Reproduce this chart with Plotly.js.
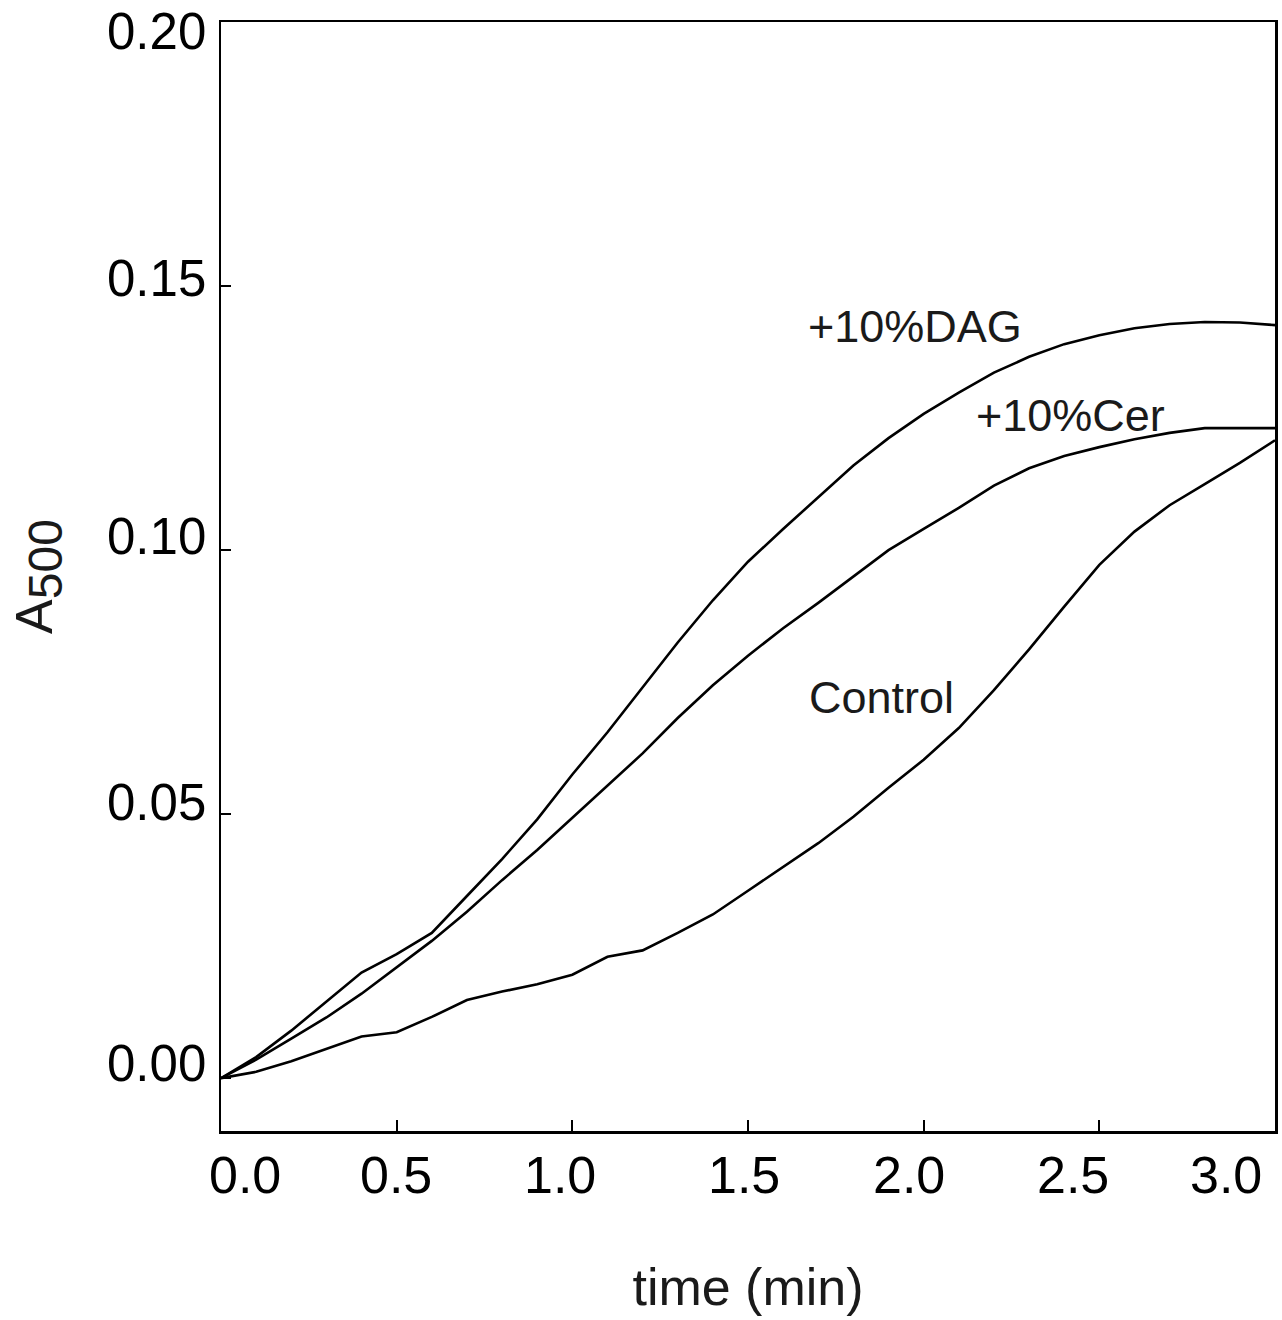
<!DOCTYPE html>
<html>
<head>
<meta charset="utf-8">
<script src="https://cdn.plot.ly/plotly-3.0.1.min.js"></script>
<style>
  html, body { margin: 0; padding: 0; background: #ffffff; }
  #chart { width: 1282px; height: 1320px; }
</style>
</head>
<body>
<div id="chart"></div>
<script>
// ---- data ----
const time = [0.0, 0.1, 0.2, 0.3, 0.4, 0.5, 0.6, 0.7, 0.8, 0.9,
              1.0, 1.1, 1.2, 1.3, 1.4, 1.5, 1.6, 1.7, 1.8, 1.9,
              2.0, 2.1, 2.2, 2.3, 2.4, 2.5, 2.6, 2.7, 2.8, 2.9, 3.0];

const dag = [0.0000, 0.0040, 0.0090, 0.0145, 0.0200, 0.0235, 0.0275, 0.0345, 0.0415, 0.0490,
             0.0575, 0.0655, 0.0740, 0.0825, 0.0905, 0.0978, 0.1040, 0.1100, 0.1160, 0.1212,
             0.1258, 0.1298, 0.1336, 0.1366, 0.1390, 0.1407, 0.1420, 0.1428, 0.1432, 0.1431, 0.1426];

const cer = [0.0000, 0.0035, 0.0075, 0.0115, 0.0160, 0.0210, 0.0260, 0.0315, 0.0375, 0.0432,
             0.0493, 0.0554, 0.0615, 0.0682, 0.0744, 0.0800, 0.0852, 0.0900, 0.0950, 0.1000,
             0.1040, 0.1080, 0.1122, 0.1155, 0.1178, 0.1195, 0.1210, 0.1222, 0.1231, 0.1231, 0.1231];

const control = [0.0000, 0.0012, 0.0032, 0.0055, 0.0079, 0.0087, 0.0116, 0.0148, 0.0164, 0.0178,
                 0.0196, 0.0230, 0.0242, 0.0275, 0.0310, 0.0355, 0.0400, 0.0445, 0.0495, 0.0550,
                 0.0603, 0.0663, 0.0735, 0.0812, 0.0893, 0.0972, 0.1035, 0.1085, 0.1125, 0.1165, 0.1208];

const seriesNames = ['+10%DAG', '+10%Cer', 'Control'];

const xTickVals = [0, 0.5, 1.0, 1.5, 2.0, 2.5, 3.0];
const xTickText = ['0.0', '0.5', '1.0', '1.5', '2.0', '2.5', '3.0'];
const yTickVals = [0, 0.05, 0.10, 0.15, 0.20];
const yTickText = ['0.00', '0.05', '0.10', '0.15', '0.20'];

const xTitle = 'time (min)';
const yTitle = 'A<sub><span style="font-size:48px">500</span></sub>';

// ---- styling / placement (not data) ----
const FONT = 'Liberation Sans, Arial, Helvetica, sans-serif';
const labelPos = [ {x: 1.664, y: 0.1424}, {x: 2.142, y: 0.1254}, {x: 1.669, y: 0.0720} ];
const xLabelShift = [24, -1, -12, -4, -15, -26, -49];
const yLabelShift = [15, 12, 14, 8, -9];

const ys = [dag, cer, control];
const traces = ys.map((y, i) => ({
  x: time, y: y, type: 'scatter', mode: 'lines', name: seriesNames[i],
  line: {color: '#000000', width: 2.6}, hoverinfo: 'skip'
}));

const annotations = [];
seriesNames.forEach((name, i) => {
  annotations.push({
    x: labelPos[i].x, y: labelPos[i].y, xref: 'x', yref: 'y',
    text: name, showarrow: false, xanchor: 'left', yanchor: 'middle',
    font: {family: FONT, size: 45, color: '#1a1a1a'}
  });
});
xTickVals.forEach((v, i) => {
  annotations.push({
    x: v, y: 0, xref: 'x', yref: 'paper', text: xTickText[i], showarrow: false,
    xanchor: 'center', yanchor: 'middle', yshift: -44, xshift: xLabelShift[i],
    font: {family: FONT, size: 52, color: '#000000'}
  });
});
yTickVals.forEach((v, i) => {
  annotations.push({
    x: 0, y: v, xref: 'paper', yref: 'y', text: yTickText[i], showarrow: false,
    xanchor: 'right', yanchor: 'middle', xshift: -13, yshift: yLabelShift[i],
    font: {family: FONT, size: 51, color: '#000000'}
  });
});

const layout = {
  width: 1282, height: 1320,
  paper_bgcolor: '#ffffff', plot_bgcolor: '#ffffff',
  margin: {l: 221, r: 7, t: 22, b: 189},
  showlegend: false,
  font: {family: FONT, color: '#000000'},
  xaxis: {
    range: [0, 3.0], tickvals: xTickVals, ticktext: xTickText, showticklabels: false,
    ticks: 'inside', ticklen: 11, tickwidth: 2, tickcolor: '#000000',
    showline: true, linecolor: '#000000', linewidth: 2.5, mirror: true,
    showgrid: false, zeroline: false,
    title: {text: xTitle, font: {family: FONT, size: 52, color: '#1a1a1a'}, standoff: 136}
  },
  yaxis: {
    range: [-0.0100, 0.2000], tickvals: yTickVals, ticktext: yTickText, showticklabels: false,
    ticks: 'inside', ticklen: 10, tickwidth: 2, tickcolor: '#000000',
    showline: true, linecolor: '#000000', linewidth: 2.5, mirror: true,
    showgrid: false, zeroline: false,
    title: {text: yTitle, font: {family: FONT, size: 52, color: '#1a1a1a'}, standoff: 150}
  },
  annotations: annotations
};

Plotly.newPlot('chart', traces, layout, {staticPlot: true, displayModeBar: false});
</script>
</body>
</html>
